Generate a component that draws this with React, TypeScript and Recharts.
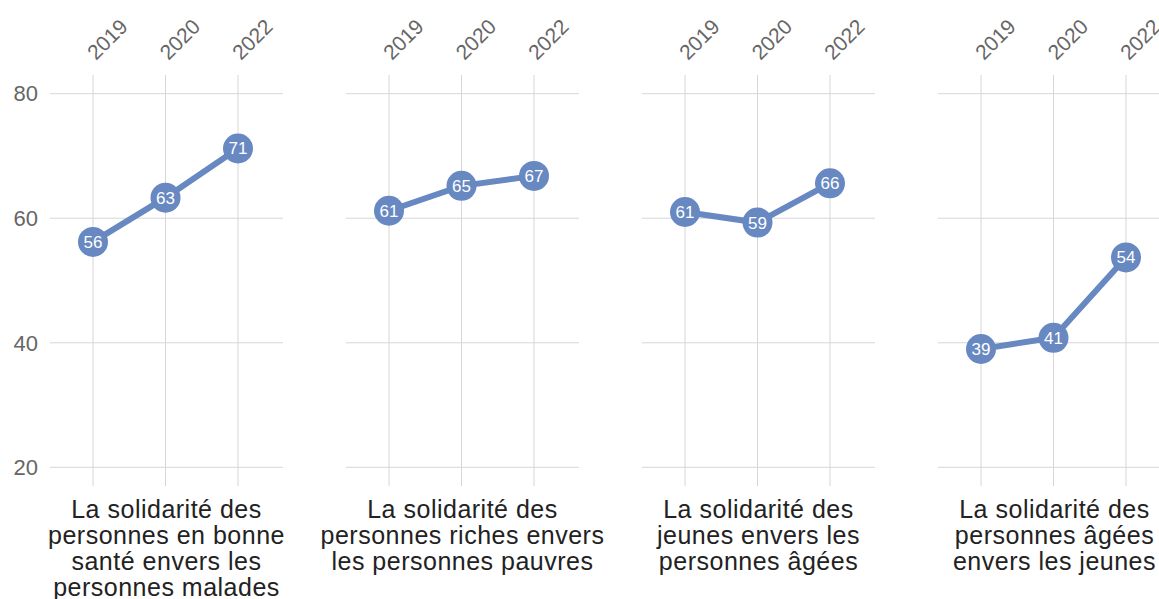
import { LabelList, Line, LineChart, ReferenceLine, XAxis, YAxis } from "recharts";

const years = ["2019", "2020", "2022"];
const santeMalades = [56.2, 63.3, 71.2];
const richesPauvres = [61.2, 65.2, 66.8];
const jeunesAges = [61.0, 59.3, 65.6];
const agesJeunes = [39.0, 40.8, 53.7];
const yTicks = [20, 40, 60, 80];
const titles = [
  ["La solidarité des", "personnes en bonne", "santé envers les", "personnes malades"],
  ["La solidarité des", "personnes riches envers", "les personnes pauvres"],
  ["La solidarité des", "jeunes envers les", "personnes âgées"],
  ["La solidarité des", "personnes âgées", "envers les jeunes"],
];

const series = [santeMalades, richesPauvres, jeunesAges, agesJeunes];
const BLUE = "#6788c1";
const GRID = "#d6d6d6";
const FONT = "'Liberation Sans', Arial, Helvetica, sans-serif";
const PANEL_W = 296;
const PLOT_W = 233;

function YearTick(props: any) {
  const { x, payload } = props;
  return (
    <g transform={`translate(${x + 3},${61})`}>
      <text transform="rotate(-45)" textAnchor="start" fontSize={21} fill="#666" fontFamily={FONT}>
        {payload.value}
      </text>
    </g>
  );
}

function PointLabel(props: any) {
  const { x, y, value } = props;
  return (
    <text x={x} y={y} dy={6} textAnchor="middle" fontSize={17} fill="#fff" fontFamily={FONT}>
      {Math.round(value)}
    </text>
  );
}

function Panel({ idx }: { idx: number }) {
  const data = years.map((year, i) => ({ year, value: series[idx][i] }));
  return (
    <LineChart
      width={PANEL_W}
      height={599}
      data={data}
      margin={{ top: 15, right: PANEL_W - 50 - PLOT_W, bottom: 113, left: idx === 0 ? 0 : 50 }}
    >
      <XAxis
        dataKey="year"
        orientation="top"
        height={60}
        axisLine={false}
        tickLine={false}
        tickSize={0}
        padding={{ left: 43, right: 45 }}
        tick={<YearTick />}
        interval={0}
      />
      <YAxis
        hide={idx !== 0}
        width={50}
        domain={[17, 83]}
        ticks={yTicks}
        axisLine={false}
        tickLine={false}
        tickSize={0}
        tickMargin={12}
        tick={{ fontSize: 22, fill: "#666", fontFamily: FONT }}
      />
      {yTicks.map((t) => (
        <ReferenceLine key={"h" + t} y={t} stroke={GRID} strokeWidth={1} />
      ))}
      {years.map((yr) => (
        <ReferenceLine key={"v" + yr} x={yr} stroke={GRID} strokeWidth={1} />
      ))}
      <Line
        dataKey="value"
        stroke={BLUE}
        strokeWidth={6}
        dot={{ r: 15, fill: BLUE, stroke: "none" }}
        activeDot={false}
        isAnimationActive={false}
      >
        <LabelList dataKey="value" content={<PointLabel />} />
      </Line>
    </LineChart>
  );
}

export default function App() {
  return (
    <div
      style={{
        position: "fixed",
        top: 0,
        left: 0,
        width: 1159,
        height: 599,
        overflow: "hidden",
        background: "#fff",
        fontFamily: FONT,
      }}
    >
      {titles.map((lines, i) => (
        <div key={i} style={{ position: "absolute", left: PANEL_W * i, top: 0 }}>
          <Panel idx={i} />
          <div
            style={{
              position: "absolute",
              left: 50 + PLOT_W / 2 - 150,
              width: 300,
              top: 496,
              textAlign: "center",
              fontSize: 25,
              letterSpacing: 0.5,
              lineHeight: "26px",
              color: "#222",
            }}
          >
            {lines.map((l, j) => (
              <div key={j}>{l}</div>
            ))}
          </div>
        </div>
      ))}
    </div>
  );
}
